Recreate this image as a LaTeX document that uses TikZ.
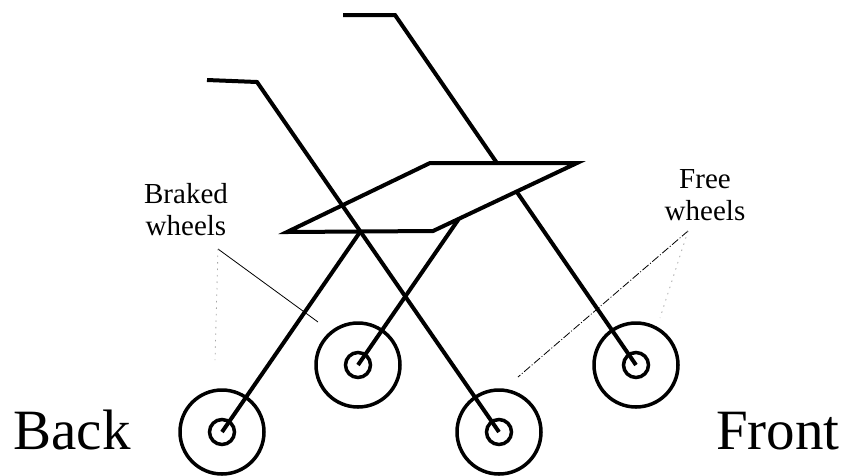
\documentclass[tikz,border=0pt]{standalone}
\usepackage{fontspec}
\setmainfont{Liberation Serif}
\usetikzlibrary{positioning}

\begin{document}
\begin{tikzpicture}[
  x=1pt,y=-1pt,
  bar/.style={line width=4pt,line join=miter},
  rim/.style={circle,draw,line width=3.5pt,minimum size=84pt,inner sep=0pt},
  hub/.style={circle,draw,line width=3.5pt,minimum size=25pt,inner sep=0pt},
  tag/.style={font=\fontsize{29}{32}\selectfont,align=center,inner sep=0pt},
  side/.style={font=\fontsize{57}{60}\selectfont,inner sep=0pt,anchor=base},
  lead/.style={line width=0.8pt},
  faint/.style={line width=0.8pt,gray!70,dash pattern=on 1.5pt off 5pt}
]
\useasboundingbox (0,0) rectangle (842,475);

% wheel centres (near pair and far pair)
\coordinate (wbn) at (222,432);
\coordinate (wfn) at (499,432);
\coordinate (wbf) at (358,365);
\coordinate (wff) at (636,365);

% handles
\coordinate (hn0) at (207,80);
\coordinate (hn1) at (257,82);
\coordinate (hf0) at (343,15);
\coordinate (hf1) at (395,15);

% seat corners and leg tops
\coordinate (s1) at (287,232);
\coordinate (s2) at (433,231);
\coordinate (s3) at (577,163);
\coordinate (s4) at (430,163);
\coordinate (kn) at (360,232);
\coordinate (kf) at (496,165);

% far side first, the seat hides part of it
\draw[bar] (hf0) -- (hf1) -- (wff);
\draw[bar] (kf) -- (wbf);
\draw[bar,fill=white] (s1) -- (s2) -- (s3) -- (s4) -- cycle;

% near side
\draw[bar] (hn0) -- (hn1) -- (wfn);
\draw[bar] (kn) -- (wbn);

% wheels
\foreach \w in {wbn,wfn,wbf,wff}{
  \node[rim] (\w r) at (\w) {};
  \node[hub] (\w h) at (\w) {};
}

% labels
\node[tag] (braked) at (186,210) {Braked\\wheels};
\node[tag] (free) at (705,195) {Free\\wheels};
\node[side] (back) at (72,449) {Back};
\node[side] (front) at (778,449) {Front};

% leader lines
\coordinate (bk0) at (218,249);
\coordinate (bk1) at (318,322);
\coordinate (bk2) at (215,360);
\coordinate (fr0) at (688,231);
\coordinate (fr1) at (518,377);
\coordinate (fr2) at (660,318);
\draw[lead] (bk0) -- (bk1);
\draw[faint] (bk0) -- (bk2);
\draw[lead,dash pattern=on 8pt off 2pt on 1pt off 2pt] (fr0) -- (fr1);
\draw[faint] (fr0) -- (fr2);
\end{tikzpicture}
\end{document}
